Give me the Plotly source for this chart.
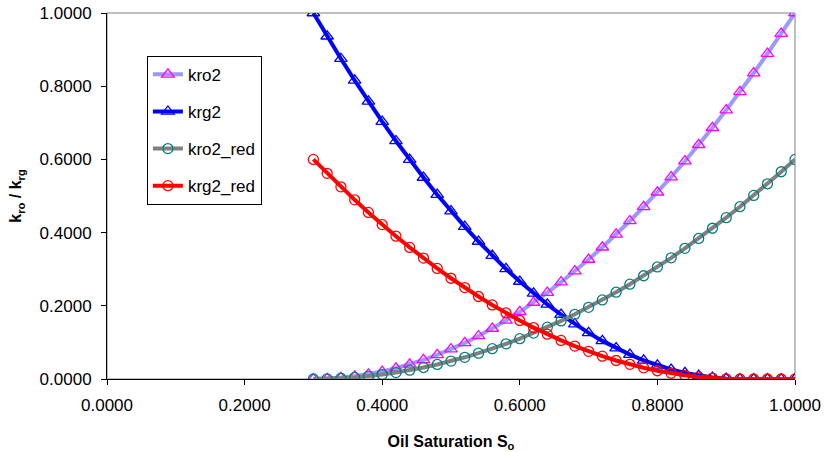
import plotly.graph_objects as go

so = [0.30, 0.32, 0.34, 0.36, 0.38, 0.40, 0.42, 0.44, 0.46, 0.48,
      0.50, 0.52, 0.54, 0.56, 0.58, 0.60, 0.62, 0.64, 0.66, 0.68,
      0.70, 0.72, 0.74, 0.76, 0.78, 0.80, 0.82, 0.84, 0.86, 0.88,
      0.90, 0.92, 0.94, 0.96, 0.98, 1.00]

kro2 = [0.0000, 0.0008, 0.0033, 0.0073, 0.0131, 0.0204, 0.0294, 0.0400, 0.0522, 0.0661,
        0.0816, 0.0988, 0.1176, 0.1380, 0.1600, 0.1837, 0.2090, 0.2359, 0.2645, 0.2947,
        0.3265, 0.3600, 0.3951, 0.4318, 0.4702, 0.5102, 0.5518, 0.5951, 0.6400, 0.6865,
        0.7347, 0.7845, 0.8359, 0.8890, 0.9437, 1.0000]

krg2 = [1.0000, 0.9365, 0.8751, 0.8158, 0.7586, 0.7034, 0.6504, 0.5994, 0.5505, 0.5036,
        0.4589, 0.4162, 0.3757, 0.3372, 0.3007, 0.2664, 0.2341, 0.2040, 0.1759, 0.1498,
        0.1259, 0.1041, 0.0843, 0.0666, 0.0510, 0.0375, 0.0260, 0.0166, 0.0094, 0.0042,
        0.0010, 0.0000, 0.0000, 0.0000, 0.0000, 0.0000]

kro2_red = [0.0000, 0.0005, 0.0020, 0.0044, 0.0078, 0.0122, 0.0176, 0.0240, 0.0313, 0.0397,
            0.0490, 0.0593, 0.0706, 0.0828, 0.0960, 0.1102, 0.1254, 0.1416, 0.1587, 0.1768,
            0.1959, 0.2160, 0.2371, 0.2591, 0.2821, 0.3061, 0.3311, 0.3571, 0.3840, 0.4119,
            0.4408, 0.4707, 0.5016, 0.5334, 0.5662, 0.6000]

krg2_red = [0.6000, 0.5619, 0.5251, 0.4895, 0.4552, 0.4220, 0.3902, 0.3596, 0.3303, 0.3022,
            0.2753, 0.2497, 0.2254, 0.2023, 0.1804, 0.1598, 0.1405, 0.1224, 0.1055, 0.0899,
            0.0755, 0.0625, 0.0506, 0.0400, 0.0306, 0.0225, 0.0156, 0.0100, 0.0056, 0.0025,
            0.0006, 0.0000, 0.0000, 0.0000, 0.0000, 0.0000]

ticks = [0.0, 0.2, 0.4, 0.6, 0.8, 1.0]

fig = go.Figure()

series = [
    ("kro2", kro2, "#9999FF", 4, "triangle-up-open", "#FF00FF", 11),
    ("krg2", krg2, "#0000FF", 4, "triangle-up-open", "#0000FF", 11),
    ("kro2_red", kro2_red, "#808080", 4, "circle-open", "#008080", 10),
    ("krg2_red", krg2_red, "#FF0000", 4, "circle-open", "#FF0000", 10),
]
for name, ys, lc, lw, sym, mc, ms in series:
    fig.add_trace(go.Scatter(
        x=so, y=ys, name=name, mode="lines+markers", legendgroup=name,
        line=dict(color=lc, width=lw),
        marker=dict(symbol=sym, size=ms, color=mc, line=dict(color=mc, width=1.3)),
    ))

fig.add_shape(type="rect", xref="paper", yref="paper", x0=0, x1=1, y0=0, y1=1,
              line=dict(color="#808080", width=1), layer="below")

font = dict(family="Liberation Sans, Arial, sans-serif", size=17, color="black")

fig.update_layout(
    width=824, height=452,
    margin=dict(l=107, r=29, t=13, b=73, autoexpand=False),
    paper_bgcolor="white", plot_bgcolor="white",
    font=font,
    legend=dict(x=0.058, y=0.883, xanchor="left", yanchor="top",
                bordercolor="black", borderwidth=1, bgcolor="white",
                tracegroupgap=12, font=dict(size=17)),
    xaxis=dict(range=[0, 1], tickvals=ticks, tickformat=".4f", showgrid=False,
               zeroline=False, showline=True, linecolor="black", linewidth=1,
               ticks="outside", ticklen=5, tickcolor="black", automargin=False,
               ticklabelstandoff=6, ticklabeloverflow="allow", tickfont=dict(size=17),
               title=dict(text="<b>Oil Saturation S<sub>o</sub></b>", standoff=23,
                          font=dict(size=16))),
    yaxis=dict(range=[0, 1], tickvals=ticks, tickformat=".4f", showgrid=False,
               zeroline=False, showline=True, linecolor="black", linewidth=1,
               ticks="outside", ticklen=5, tickcolor="black", ticklabelstandoff=6,
               ticklabeloverflow="allow", automargin=False, tickfont=dict(size=17),
               title=dict(text="<b>k<sub>ro</sub> / k<sub>rg</sub></b>", standoff=13,
                          font=dict(size=16))),
)

# remove the default 8px body margin so the figure sits at the page's top-left
fig.write_html("out.html", config={"displayModeBar": False},
               post_script="document.body.style.margin='0';")
